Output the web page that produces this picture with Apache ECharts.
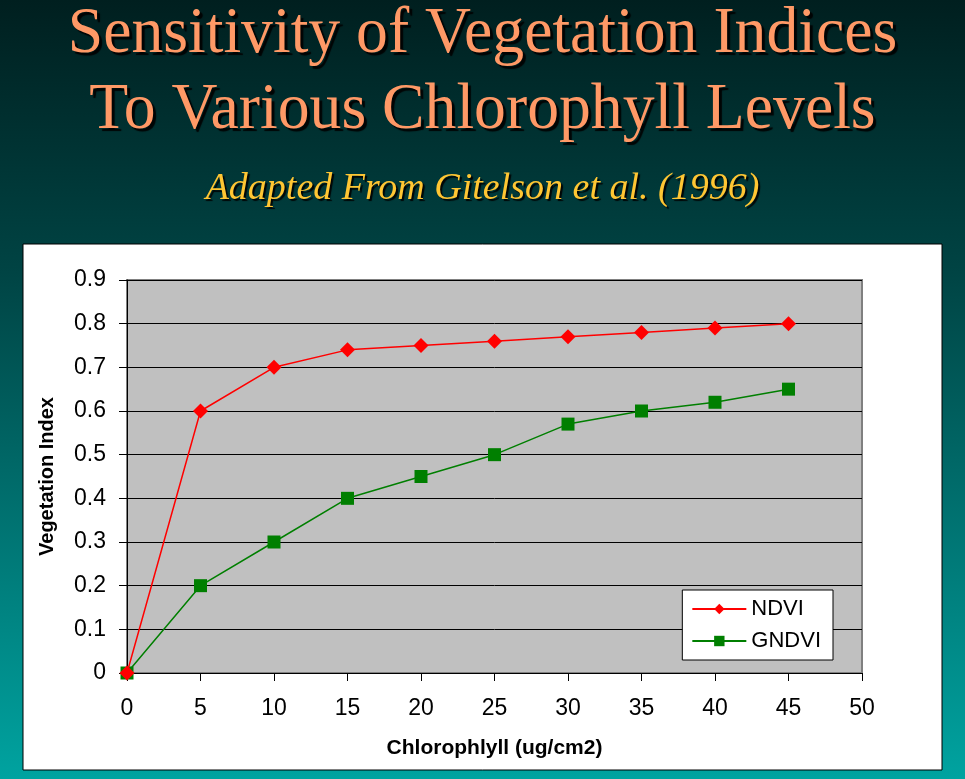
<!DOCTYPE html>
<html><head><meta charset="utf-8">
<script src="https://cdn.jsdelivr.net/npm/echarts@6/dist/echarts.min.js"></script>
<style>html,body{margin:0;padding:0;}#c{width:965px;height:779px;}</style>
</head><body><div id="c"></div>
<script>
const chlorophyll = [0, 5, 10, 15, 20, 25, 30, 35, 40, 45];
const ndvi = [0, 0.6, 0.7, 0.74, 0.75, 0.76, 0.77, 0.78, 0.79, 0.8];
const gndvi = [0, 0.2, 0.3, 0.4, 0.45, 0.5, 0.57, 0.6, 0.62, 0.65];
const seriesNames = ['NDVI', 'GNDVI'];
const titleLines = ['Sensitivity of Vegetation Indices', 'To Various Chlorophyll Levels'];
const subtitle = 'Adapted From Gitelson et al. (1996)';

const chart = echarts.init(document.getElementById('c'), null, {renderer: 'canvas'});
function titleText(text, y, font, fill, sx, sh) {
  return {type: 'text', x: 482.5, y: y, scaleX: sx, z: 10,
    style: {text: text, x: 0, y: 0, align: 'center', verticalAlign: 'middle', fill: fill, font: font,
      textShadowColor: 'rgba(0,0,0,0.9)', textShadowOffsetX: sh, textShadowOffsetY: sh, textShadowBlur: 1}};
}
chart.setOption({
  backgroundColor: {type: 'linear', x: 0, y: 0, x2: 0, y2: 1, colorStops: [
    {offset: 0, color: '#001f1f'}, {offset: 0.35, color: '#004444'}, {offset: 1, color: '#00A3A0'}]},
  animation: false,
  graphic: [
    {type: 'rect', z: -10, shape: {x: 23, y: 244, width: 919, height: 526}, style: {fill: '#ffffff', stroke: '#000000', lineWidth: 1}},
    titleText(titleLines[0], 35, 'normal 66px "Liberation Serif"', '#FF9966', 0.965, 3),
    titleText(titleLines[1], 111, 'normal 66px "Liberation Serif"', '#FF9966', 0.965, 3),
    titleText(subtitle, 189, 'italic 38px "Liberation Serif"', '#FFC633', 1, 2)
  ],
  grid: {left: 127, top: 280, width: 735, height: 393, show: true, backgroundColor: '#C0C0C0', borderColor: '#808080', borderWidth: 2},
  legend: {
    orient: 'vertical', right: 132, top: 590,
    backgroundColor: '#ffffff', borderColor: '#000000', borderWidth: 1,
    padding: [8, 12, 8, 9], itemGap: 10, itemWidth: 54, itemHeight: 13,
    textStyle: {fontFamily: 'Liberation Sans', fontSize: 22, color: '#000'},
    data: seriesNames
  },
  xAxis: {
    type: 'value', min: 0, max: 50, interval: 5,
    name: 'Chlorophlyll (ug/cm2)', nameLocation: 'middle', nameGap: 65,
    nameTextStyle: {fontFamily: 'Liberation Sans', fontWeight: 'bold', fontSize: 21, color: '#000'},
    axisLine: {show: true, lineStyle: {color: '#000', width: 1}},
    axisTick: {show: true, inside: false, length: 8, lineStyle: {color: '#000'}},
    axisLabel: {fontFamily: 'Liberation Sans', fontSize: 23, color: '#000', margin: 24},
    splitLine: {show: false}
  },
  yAxis: {
    type: 'value', min: 0, max: 0.9, interval: 0.1,
    name: 'Vegetation Index', nameLocation: 'middle', nameGap: 70, nameRotate: 90,
    nameTextStyle: {fontFamily: 'Liberation Sans', fontWeight: 'bold', fontSize: 20, color: '#000'},
    axisLine: {show: true, lineStyle: {color: '#000', width: 1}},
    axisTick: {show: true, inside: false, length: 8, lineStyle: {color: '#000'}},
    axisLabel: {fontFamily: 'Liberation Sans', fontSize: 23, color: '#000', margin: 21,
      formatter: v => String(Math.round(v * 10) / 10)},
    splitLine: {show: true, lineStyle: {color: '#000', width: 1}}
  },
  series: [
    {name: seriesNames[0], type: 'line', data: chlorophyll.map((x, i) => [x, ndvi[i]]),
      symbol: 'diamond', symbolSize: 15, color: '#FF0000',
      lineStyle: {color: '#FF0000', width: 1.5}, itemStyle: {color: '#FF0000'}, z: 3},
    {name: seriesNames[1], type: 'line', data: chlorophyll.map((x, i) => [x, gndvi[i]]),
      symbol: 'rect', symbolSize: 13, color: '#007F00',
      lineStyle: {color: '#007F00', width: 1.5}, itemStyle: {color: '#007F00'}, z: 2}
  ]
});
</script></body></html>
